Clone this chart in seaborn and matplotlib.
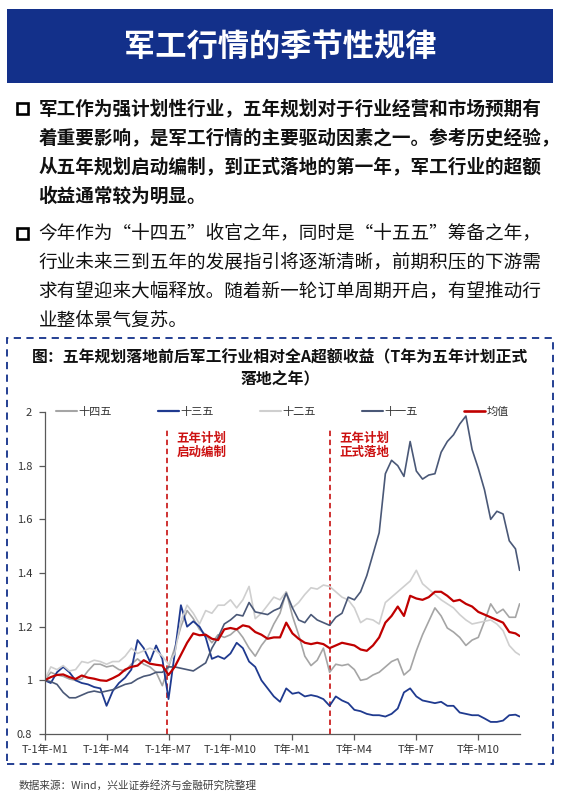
import matplotlib
matplotlib.use("Agg")
import matplotlib.pyplot as plt
import numpy as np
import pandas as pd
import seaborn as sns
from matplotlib.patches import Rectangle
from matplotlib.lines import Line2D

# ---------------- data ----------------
months = [0.0, 0.3, 0.6, 0.9, 1.2, 1.5, 1.8, 2.1, 2.4, 2.7,
          3.0, 3.3, 3.6, 3.9, 4.2, 4.5, 4.8, 5.1, 5.4, 5.7,
          6.0, 6.3, 6.6, 6.9, 7.2, 7.5, 7.8, 8.1, 8.4, 8.7,
          9.0, 9.3, 9.6, 9.9, 10.2, 10.5, 10.8, 11.1, 11.4, 11.7,
          12.0, 12.3, 12.6, 12.9, 13.2, 13.5, 13.8, 14.1, 14.4, 14.7,
          15.0, 15.3, 15.6, 15.9, 16.2, 16.5, 16.8, 17.1, 17.4, 17.7,
          18.0, 18.3, 18.6, 18.9, 19.2, 19.5, 19.8, 20.1, 20.4, 20.7,
          21.0, 21.3, 21.6, 21.9, 22.2, 22.5, 22.8, 23.0]

s_145 = [1.0, 1.03, 1.02, 1.015, 1.005, 1.0, 1.005, 1.035, 1.06, 1.06,
         1.05, 1.055, 1.04, 1.035, 1.06, 1.08, 1.06, 1.05, 1.03, 0.98,
         1.05, 1.12, 1.20, 1.26, 1.23, 1.19, 1.17, 1.14, 1.17, 1.16,
         1.17, 1.19, 1.16, 1.12, 1.09, 1.13, 1.16, 1.21, 1.25, 1.33,
         1.24, 1.17, 1.09, 1.055, 1.075, 1.12, 1.03, 1.06, 1.055, 1.06,
         1.04, 1.0, 1.005, 1.02, 1.03, 1.05, 1.07, 1.08, 1.02, 1.04,
         1.11, 1.17, 1.22, 1.27, 1.24, 1.195, 1.18, 1.16, 1.13, 1.15,
         1.16, 1.22, 1.285, 1.25, 1.265, 1.235, 1.235, 1.285]

s_135 = [1.0, 0.99, 1.03, 1.05, 1.03, 1.0, 0.99, 0.985, 0.975, 0.97,
         0.905, 0.96, 0.99, 1.01, 1.04, 1.15, 1.12, 1.07, 1.13, 1.08,
         0.93, 1.10, 1.28, 1.20, 1.22, 1.20, 1.16, 1.08, 1.09, 1.08,
         1.10, 1.14, 1.12, 1.07, 1.05, 1.0, 0.97, 0.94, 0.92, 0.97,
         0.95, 0.955, 0.94, 0.945, 0.94, 0.93, 0.905, 0.94, 0.925, 0.915,
         0.89, 0.885, 0.875, 0.87, 0.87, 0.865, 0.875, 0.895, 0.955, 0.97,
         0.94, 0.925, 0.92, 0.915, 0.92, 0.905, 0.905, 0.88, 0.875, 0.87,
         0.87, 0.858, 0.845, 0.845, 0.85, 0.87, 0.872, 0.865]

s_125 = [1.0, 1.05, 1.04, 1.055, 1.035, 1.04, 1.07, 1.065, 1.075, 1.07,
         1.06, 1.07, 1.07, 1.09, 1.12, 1.10, 1.11, 1.12, 1.11, 1.09,
         1.06, 1.10, 1.22, 1.28, 1.25, 1.21, 1.26, 1.25, 1.28, 1.28,
         1.30, 1.27, 1.30, 1.35, 1.23, 1.25, 1.28, 1.31, 1.30, 1.33,
         1.27, 1.29, 1.32, 1.345, 1.34, 1.355, 1.35, 1.33, 1.31, 1.30,
         1.27, 1.215, 1.23, 1.225, 1.21, 1.29, 1.31, 1.33, 1.35, 1.37,
         1.41, 1.36, 1.34, 1.32, 1.30, 1.285, 1.27, 1.245, 1.225, 1.21,
         1.215, 1.22, 1.225, 1.21, 1.185, 1.13, 1.105, 1.095]

s_115 = [1.0, 0.995, 0.985, 0.955, 0.935, 0.935, 0.945, 0.955, 0.96, 0.955,
         0.96, 0.965, 0.975, 0.985, 0.99, 1.005, 1.015, 1.02, 1.03, 1.03,
         1.05, 1.05, 1.045, 1.04, 1.035, 1.05, 1.065, 1.12, 1.16, 1.21,
         1.225, 1.245, 1.24, 1.29, 1.255, 1.25, 1.245, 1.26, 1.27, 1.325,
         1.27, 1.225, 1.215, 1.245, 1.225, 1.215, 1.205, 1.235, 1.25, 1.31,
         1.30, 1.33, 1.39, 1.47, 1.55, 1.77, 1.82, 1.80, 1.76, 1.89,
         1.78, 1.75, 1.765, 1.77, 1.85, 1.89, 1.915, 1.955, 1.985, 1.86,
         1.79, 1.71, 1.60, 1.63, 1.62, 1.52, 1.49, 1.41]

s_mean = [1.0, 1.012, 1.02, 1.022, 1.012, 1.005, 1.018, 1.01, 1.006, 1.0,
          0.998, 1.008, 1.02, 1.04, 1.05, 1.055, 1.075, 1.062, 1.058, 1.055,
          1.02, 1.05, 1.095, 1.14, 1.175, 1.168, 1.17, 1.155, 1.15, 1.19,
          1.195, 1.19, 1.205, 1.2, 1.18, 1.17, 1.155, 1.16, 1.16, 1.215,
          1.175, 1.155, 1.14, 1.135, 1.14, 1.135, 1.12, 1.13, 1.14, 1.135,
          1.13, 1.115, 1.11, 1.13, 1.16, 1.215, 1.24, 1.275, 1.24, 1.315,
          1.305, 1.3, 1.31, 1.33, 1.33, 1.315, 1.295, 1.3, 1.285, 1.275,
          1.255, 1.245, 1.235, 1.225, 1.215, 1.18, 1.175, 1.165]

series_names = ["十四五", "十三五", "十二五", "十一五", "均值"]
x_tick_pos = [0, 3, 6, 9, 12, 15, 18, 21]
x_tick_labels = ["T-1年-M1", "T-1年-M4", "T-1年-M7", "T-1年-M10",
                 "T年-M1", "T年-M4", "T年-M7", "T年-M10"]
y_ticks = [0.8, 1.0, 1.2, 1.4, 1.6, 1.8, 2.0]
y_tick_labels = ["0.8", "1", "1.2", "1.4", "1.6", "1.8", "2"]
event_x = [5.93, 13.83]
event_labels = ["五年计划\n启动编制", "五年计划\n正式落地"]

header_title = "军工行情的季节性规律"
bullet1 = ["军工作为强计划性行业，五年规划对于行业经营和市场预期有",
           "着重要影响，是军工行情的主要驱动因素之一。参考历史经验，",
           "从五年规划启动编制，到正式落地的第一年，军工行业的超额",
           "收益通常较为明显。"]
bullet2 = ["今年作为“十四五”收官之年，同时是“十五五”筹备之年，",
           "行业未来三到五年的发展指引将逐渐清晰，前期积压的下游需",
           "求有望迎来大幅释放。随着新一轮订单周期开启，有望推动行",
           "业整体景气复苏。"]
chart_title = ["图：五年规划落地前后军工行业相对全A超额收益（T年为五年计划正式",
               "落地之年）"]
source_text = "数据来源：Wind，兴业证券经济与金融研究院整理"

# ---------------- style ----------------
sns.set_theme(style="white")
plt.rcParams["font.family"] = ["Noto Sans CJK SC", "DejaVu Sans"]
plt.rcParams["axes.unicode_minus"] = False

NAVY = "#13308a"
RED = "#c00000"
colors = {"十四五": "#a5a5a5", "十三五": "#1f3a8f", "十二五": "#cfcfcf",
          "十一五": "#4a5877", "均值": RED}
widths = {"十四五": 1.2, "十三五": 1.3, "十二五": 1.2, "十一五": 1.2, "均值": 1.6}

W, H = 561, 801
fig = plt.figure(figsize=(W / 100, H / 100), dpi=100)
fig.patch.set_facecolor("white")


def fx(px):
    return px / W


def fy(py):
    return 1 - py / H


# header box
fig.patches.append(Rectangle((fx(7), fy(82.5)), 546 / W, 73.5 / H,
                             transform=fig.transFigure, facecolor=NAVY,
                             edgecolor="none", zorder=0))
fig.text(fx(280), fy(46.5), header_title, color="white", fontsize=22.5,
         fontweight="bold", ha="center", va="center")

# bullets
line_gap = 29.3
for block, y0, weight in [(bullet1, 108.5, "bold"), (bullet2, 233.0, "normal")]:
    fig.patches.append(Rectangle((fx(17), fy(y0 + 5.5)), 10.5 / W, 10.5 / H,
                                 transform=fig.transFigure, facecolor="white",
                                 edgecolor="black", linewidth=1.9, zorder=2))
    for k, line in enumerate(block):
        fig.text(fx(38.5), fy(y0 + k * line_gap), line, fontsize=13.4,
                 fontweight=weight, color="#111111", ha="left", va="center")

# dashed frame
fig.patches.append(Rectangle((fx(7), fy(764)), 546 / W, 426 / H,
                             transform=fig.transFigure, fill=False,
                             edgecolor=NAVY, linewidth=1.3,
                             linestyle=(0, (4, 3)), zorder=1))

# chart title
fig.text(fx(280), fy(357), chart_title[0], fontsize=11.4, fontweight="bold",
         ha="center", va="center", color="#111111")
fig.text(fx(280), fy(378), chart_title[1], fontsize=11.4, fontweight="bold",
         ha="center", va="center", color="#111111")

# source
fig.text(fx(18.5), fy(785), source_text, fontsize=7.7, color="#404040",
         ha="left", va="center")

# ---------------- chart ----------------
ax = fig.add_axes([fx(44.6), fy(734), 475 / W, 322 / H])
ax.set_facecolor("white")

all_series = [s_145, s_135, s_125, s_115, s_mean]
df = pd.DataFrame({
    "月份": months * len(series_names),
    "超额收益": [v for s in all_series for v in s],
    "系列": [n for n in series_names for _ in months],
})
for name in series_names:
    sub = df[df["系列"] == name]
    sns.lineplot(data=sub, x="月份", y="超额收益", ax=ax, color=colors[name],
                 linewidth=widths[name], estimator=None, sort=False,
                 legend=False)

for xe, lab in zip(event_x, event_labels):
    ax.vlines(xe, 0.8, 1.935, colors="#cc2222", linewidth=1.3,
              linestyles=(0, (3, 2)), zorder=1)
    ax.text(xe + 0.45, 1.875, lab, color="#cc1111", fontsize=9,
            fontweight="bold", ha="left", va="center", linespacing=1.1)

ax.set_xlim(0, 23)
ax.set_ylim(0.8, 2.0)
ax.set_xticks(x_tick_pos)
ax.set_xticklabels(x_tick_labels)
ax.set_yticks(y_ticks)
ax.set_yticklabels(y_tick_labels)
ax.set_xlabel("")
ax.set_ylabel("")
for sp in ["top", "right"]:
    ax.spines[sp].set_visible(False)
for sp in ["left", "bottom"]:
    ax.spines[sp].set_color("#595959")
    ax.spines[sp].set_linewidth(0.9)
ax.tick_params(axis="both", bottom=True, left=True, direction="out",
               length=4, width=0.9, color="#595959", labelsize=8,
               labelcolor="#333333")
ax.tick_params(axis="x", pad=4)
ax.tick_params(axis="y", pad=5)
ax.grid(False)

handles = [Line2D([0], [0], color=colors[n], linewidth=widths[n] + 0.3)
           for n in series_names]
ax.legend(handles, series_names, ncol=5, loc="center left",
          bbox_to_anchor=((55.5 - 44.6) / 475, 1.0), frameon=False,
          fontsize=8, handlelength=1.95, handletextpad=0.1,
          columnspacing=4.13, borderpad=0, borderaxespad=0,
          labelcolor="#333333")

fig.savefig("out.png", dpi=100, facecolor="white")
